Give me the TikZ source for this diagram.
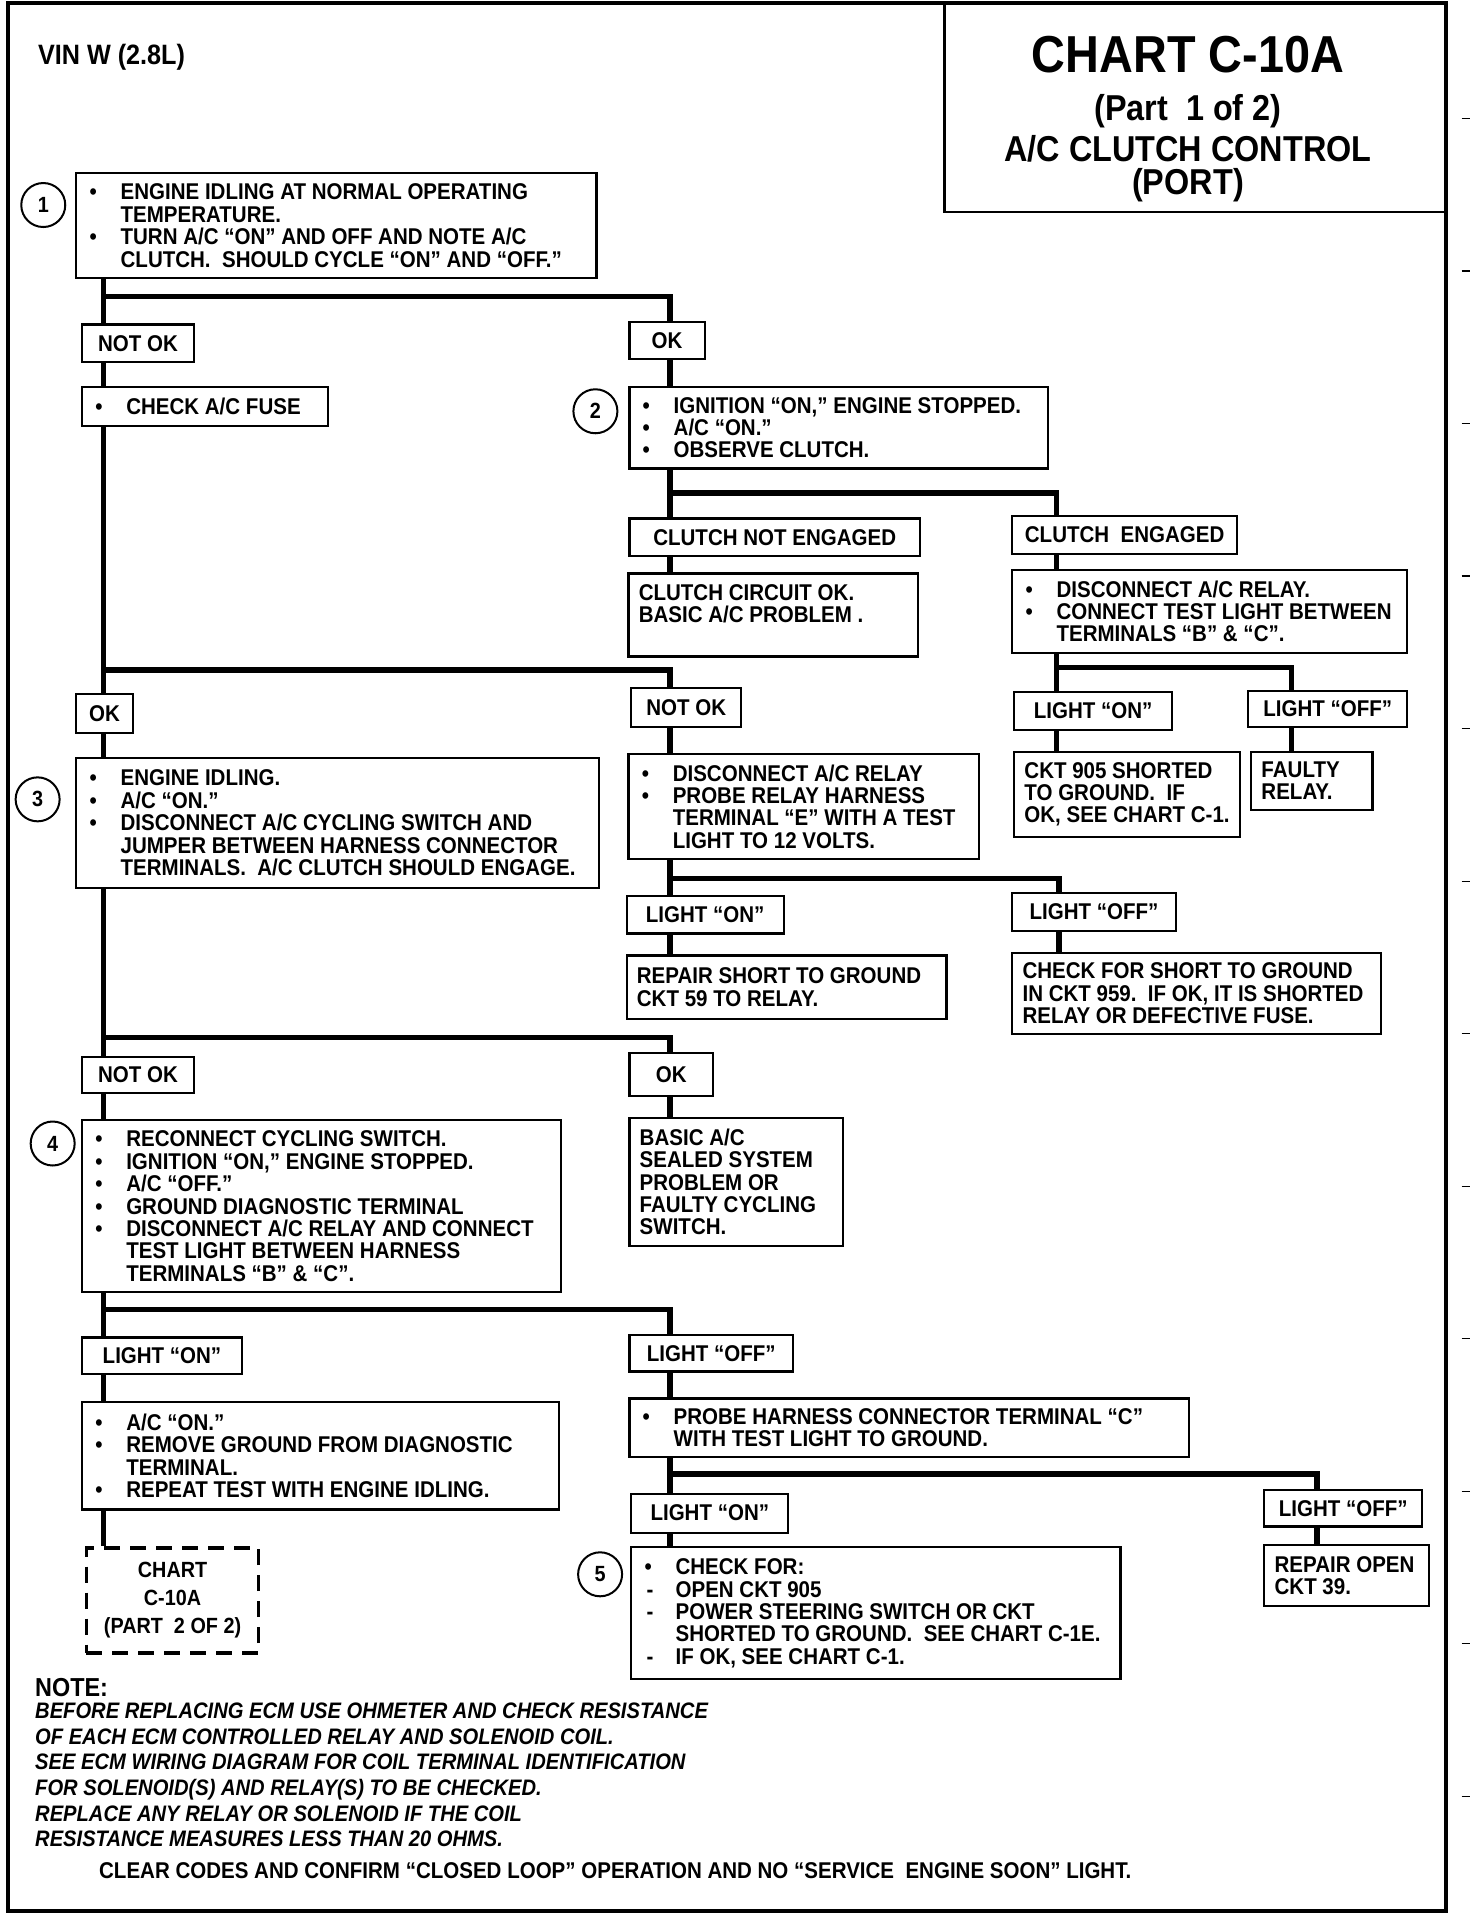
\documentclass[tikz,border=0pt]{standalone}
\usepackage{fontspec}
\setmainfont{Liberation Sans}[FakeStretch=0.9]
\usepackage{tikz}

\newcommand{\bodyfont}{\fontsize{11.4}{11.2}\selectfont\bfseries}
\newcommand{\itm}{\makebox[17pt][l]{\hspace*{1.5pt}\textbullet}}
\newcommand{\dsh}{\makebox[17pt][l]{\hspace*{2.5pt}-}}
\newcommand{\hng}{\hspace*{17pt}}

\begin{document}
\begin{tikzpicture}[x=0.4703pt, y=-0.6102pt,
    bx/.style 2 args={draw, line width=1.1pt, anchor=north west, inner sep=0pt, minimum width=#1pt, minimum height=#2pt},
    tag/.style 2 args={bx={#1}{#2}, font=\bodyfont},
    txt/.style={anchor=west, align=left, inner xsep=5.5pt, inner ysep=0pt, font=\bodyfont},
    free/.style={anchor=west, inner sep=0pt},
    head/.style={inner sep=0pt, font=\fontsize{18}{18}\selectfont\bfseries},
    wire/.style={line width=2.8pt},
    num/.style={draw, circle, line width=1pt, minimum size=22pt, inner sep=0pt, font=\fontsize{11}{11}\selectfont\bfseries}]
    \useasboundingbox (0,0) rectangle (1565,1570);
    \draw[line width=2pt] (8,2.5) rectangle (1537,1566);
    \foreach \k in {0,...,11}
        \draw[line width=0.6pt] (1554,{97+125*\k}) -- (1563,{97+125*\k});

    % heading
    \node[bx={251.1}{104.0}] (title) at (1003,2.5) {};
    \node[inner sep=0pt, font=\fontsize{26}{26}\selectfont\bfseries] (t1) at (1263,45) {CHART C-10A};
    \node[head] (t2) at (1263,91) {(Part\ \ 1 of 2)};
    \node[head] (t3) at (1263,122) {A/C CLUTCH CONTROL};
    \node[head] (t4) at (1263,152) {(PORT)};
    \node[free, font=\fontsize{14}{14}\selectfont\bfseries] (vin) at (40,47) {VIN W (2.8L)};

    % step boxes
    \node[bx={260.1}{52.5}, label={[txt]west:{\itm ENGINE IDLING AT NORMAL OPERATING\\\hng TEMPERATURE.\\\itm TURN A/C “ON” AND OFF AND NOTE A/C\\\hng CLUTCH.\ \ SHOULD CYCLE “ON” AND “OFF.”}}] (b1) at (80,141) {};
    \node[tag={56.0}{18.9}] (notok1) at (86,265) {NOT OK};
    \node[tag={37.6}{18.3}] (ok1) at (668,263) {OK};
    \node[bx={123.2}{19.5}, label={[txt]west:{\itm CHECK A/C FUSE}}] (fuse) at (86,316) {};
    \node[bx={209.3}{40.9}, label={[txt]west:{\itm IGNITION “ON,” ENGINE STOPPED.\\\itm A/C “ON.”\\\itm OBSERVE CLUTCH.}}] (b2) at (668,316) {};
    \node[tag={145.3}{18.9}] (nengd) at (668,424) {CLUTCH NOT ENGAGED};
    \node[tag={112.4}{18.9}] (engd) at (1075,422) {CLUTCH\ \ ENGAGED};
    \node[bx={144.9}{41.5}, label={[txt]west:{CLUTCH CIRCUIT OK.\\BASIC A/C PROBLEM .\\\mbox{}}}] (circok) at (667,469) {};
    \node[bx={197.5}{41.5}, label={[txt]west:{\itm DISCONNECT A/C RELAY.\\\itm CONNECT TEST LIGHT BETWEEN\\\hng TERMINALS “B” \& “C”.}}] (relay1) at (1075,466) {};
    \node[tag={79.0}{18.9}] (lon1) at (1077,566) {LIGHT “ON”};
    \node[tag={79.5}{18.3}] (loff1) at (1326,565) {LIGHT “OFF”};
    \node[bx={112.9}{42.7}, label={[txt]west:{CKT 905 SHORTED\\TO GROUND.\ \ IF\\OK, SEE CHART C-1.}}] (ckt905) at (1077,615) {};
    \node[bx={60.7}{29.3}, label={[txt]west:{FAULTY\\RELAY.}}] (faulty) at (1329,615) {};

    \node[tag={28.2}{19.5}] (ok2) at (80,568) {OK};
    \node[tag={55.0}{19.5}] (notok2) at (670,563) {NOT OK};
    \node[bx={261.5}{65.3}, label={[txt]west:{\itm ENGINE IDLING.\\\itm A/C “ON.”\\\itm DISCONNECT A/C CYCLING SWITCH AND\\\hng JUMPER BETWEEN HARNESS CONNECTOR\\\hng TERMINALS.\ \ A/C CLUTCH SHOULD ENGAGE.}}] (b3) at (80,620) {};
    \node[bx={175.4}{52.5}, label={[txt]west:{\itm DISCONNECT A/C RELAY\\\itm PROBE RELAY HARNESS\\\hng TERMINAL “E” WITH A TEST\\\hng LIGHT TO 12 VOLTS.}}] (relay2) at (667,617) {};
    \node[tag={78.5}{18.9}] (lon2) at (665,733) {LIGHT “ON”};
    \node[tag={81.8}{18.9}] (loff2) at (1075,731) {LIGHT “OFF”};
    \node[bx={159.9}{31.7}, label={[txt]west:{REPAIR SHORT TO GROUND\\CKT 59 TO RELAY.}}] (repair59) at (665,782) {};
    \node[bx={184.4}{40.3}, label={[txt]west:{CHECK FOR SHORT TO GROUND\\IN CKT 959.\ \ IF OK, IT IS SHORTED\\RELAY OR DEFECTIVE FUSE.}}] (check959) at (1075,780) {};

    \node[tag={56.0}{18.3}] (notok3) at (86,865) {NOT OK};
    \node[tag={41.9}{21.4}] (ok3) at (668,862) {OK};
    \node[bx={239.4}{86.0}, label={[txt]west:{\itm RECONNECT CYCLING SWITCH.\\\itm IGNITION “ON,” ENGINE STOPPED.\\\itm A/C “OFF.”\\\itm GROUND DIAGNOSTIC TERMINAL\\\itm DISCONNECT A/C RELAY AND CONNECT\\\hng TEST LIGHT BETWEEN HARNESS\\\hng TERMINALS “B” \& “C”.}}] (b4) at (86,917) {};
    \node[bx={106.8}{64.1}, label={[txt]west:{BASIC A/C\\SEALED SYSTEM\\PROBLEM OR\\FAULTY CYCLING\\SWITCH.}}] (basic) at (668,915) {};

    \node[tag={80.0}{18.3}] (lon3) at (86,1095) {LIGHT “ON”};
    \node[tag={81.8}{18.3}] (loff3) at (668,1093) {LIGHT “OFF”};
    \node[bx={238.4}{53.7}, label={[txt]west:{\itm A/C “ON.”\\\itm REMOVE GROUND FROM DIAGNOSTIC\\\hng TERMINAL.\\\itm REPEAT TEST WITH ENGINE IDLING.}}] (acon) at (86,1148) {};
    \node[bx={279.8}{29.3}, label={[txt]west:{\itm PROBE HARNESS CONNECTOR TERMINAL “C”\\\hng WITH TEST LIGHT TO GROUND.}}] (probe) at (668,1145) {};
    \node[tag={78.5}{19.5}] (lon4) at (670,1223) {LIGHT “ON”};
    \node[tag={79.0}{18.3}] (loff4) at (1343,1220) {LIGHT “OFF”};
    \node[bx={244.6}{65.9}, label={[txt]west:{\itm CHECK FOR:\\\dsh OPEN CKT 905\\\dsh POWER STEERING SWITCH OR CKT\\\hng SHORTED TO GROUND.\ \ SEE CHART C-1E.\\\dsh IF OK, SEE CHART C-1.}}] (b5) at (670,1267) {};
    \node[bx={82.3}{30.5}, label={[txt]west:{REPAIR OPEN\\CKT 39.}}] (open39) at (1343,1265) {};
    \node[bx={86.1}{52.5}, line width=1.8pt, dash pattern=on 8pt off 5pt, align=center, font=\fontsize{11}{14}\selectfont\bfseries] (part2) at (90,1267) {CHART\\C-10A\\(PART\ \ 2 OF 2)};

    % step numbers
    \node[num] (c1) at (46,168) {1};
    \node[num] (c2) at (633,337) {2};
    \node[num] (c3) at (40,655) {3};
    \node[num] (c4) at (56,937) {4};
    \node[num] (c5) at (638,1290) {5};

    % trunk lines and branch points
    \coordinate (L) at (110,0);
    \coordinate (M) at (712,0);
    \coordinate (Ra) at (1123,0);
    \coordinate (Rb) at (1373,0);
    \coordinate (Rc) at (1126,0);
    \coordinate (Rd) at (1400,0);
    \coordinate (j1) at (110,243);
    \coordinate (j2) at (712,404);
    \coordinate (j3) at (1123,547);
    \coordinate (j4) at (110,549);
    \coordinate (j5) at (712,720);
    \coordinate (j6) at (110,850);
    \coordinate (j7) at (110,1073);
    \coordinate (j8) at (712,1208);

    \draw[wire] (b1.south -| L) -- (notok1.north -| L);
    \draw[wire] (notok1.south -| L) -- (fuse.north -| L);
    \draw[wire] (fuse.south -| L) -- (ok2.north -| L);
    \draw[wire] (ok2.south -| L) -- (b3.north -| L);
    \draw[wire] (b3.south -| L) -- (notok3.north -| L);
    \draw[wire] (notok3.south -| L) -- (b4.north -| L);
    \draw[wire] (b4.south -| L) -- (lon3.north -| L);
    \draw[wire] (lon3.south -| L) -- (acon.north -| L);
    \draw[wire] (acon.south -| L) -- (part2.north -| L);

    \draw[wire] (ok1.south -| M) -- (b2.north -| M);
    \draw[wire] (b2.south -| M) -- (nengd.north -| M);
    \draw[wire] (nengd.south -| M) -- (circok.north -| M);
    \draw[wire] (notok2.south -| M) -- (relay2.north -| M);
    \draw[wire] (relay2.south -| M) -- (lon2.north -| M);
    \draw[wire] (lon2.south -| M) -- (repair59.north -| M);
    \draw[wire] (ok3.south -| M) -- (basic.north -| M);
    \draw[wire] (loff3.south -| M) -- (probe.north -| M);
    \draw[wire] (probe.south -| M) -- (lon4.north -| M);
    \draw[wire] (lon4.south -| M) -- (b5.north -| M);

    \draw[wire] (engd.south -| Ra) -- (relay1.north -| Ra);
    \draw[wire] (relay1.south -| Ra) -- (lon1.north -| Ra);
    \draw[wire] (lon1.south -| Ra) -- (ckt905.north -| Ra);
    \draw[wire] (loff1.south -| Rb) -- (faulty.north -| Rb);
    \draw[wire] (loff2.south -| Rc) -- (check959.north -| Rc);
    \draw[wire] (loff4.south -| Rd) -- (open39.north -| Rd);

    \draw[wire] (j1) -| (ok1.north -| M);
    \draw[wire] (j2) -| (engd.north -| Ra);
    \draw[wire] (j3) -| (loff1.north -| Rb);
    \draw[wire] (j4) -| (notok2.north -| M);
    \draw[wire] (j5) -| (loff2.north -| Rc);
    \draw[wire] (j6) -| (ok3.north -| M);
    \draw[wire] (j7) -| (loff3.north -| M);
    \draw[wire] (j8) -| (loff4.north -| Rd);

    % notes
    \node[free, font=\fontsize{13}{13}\selectfont\bfseries] (note) at (37,1383) {NOTE:};
    \node[free, align=left, font=\fontsize{11.2}{12.8}\selectfont\bfseries\itshape] (notetxt) at (37,1454.5) {BEFORE REPLACING ECM USE OHMETER AND CHECK RESISTANCE\\OF EACH ECM CONTROLLED RELAY AND SOLENOID COIL.\\SEE ECM WIRING DIAGRAM FOR COIL TERMINAL IDENTIFICATION\\FOR SOLENOID(S) AND RELAY(S) TO BE CHECKED.\\REPLACE ANY RELAY OR SOLENOID IF THE COIL\\RESISTANCE MEASURES LESS THAN 20 OHMS.};
    \node[free, font=\bodyfont] (clear) at (105,1533) {CLEAR CODES AND CONFIRM “CLOSED LOOP” OPERATION AND NO “SERVICE\ \ ENGINE SOON” LIGHT.};
\end{tikzpicture}
\end{document}
